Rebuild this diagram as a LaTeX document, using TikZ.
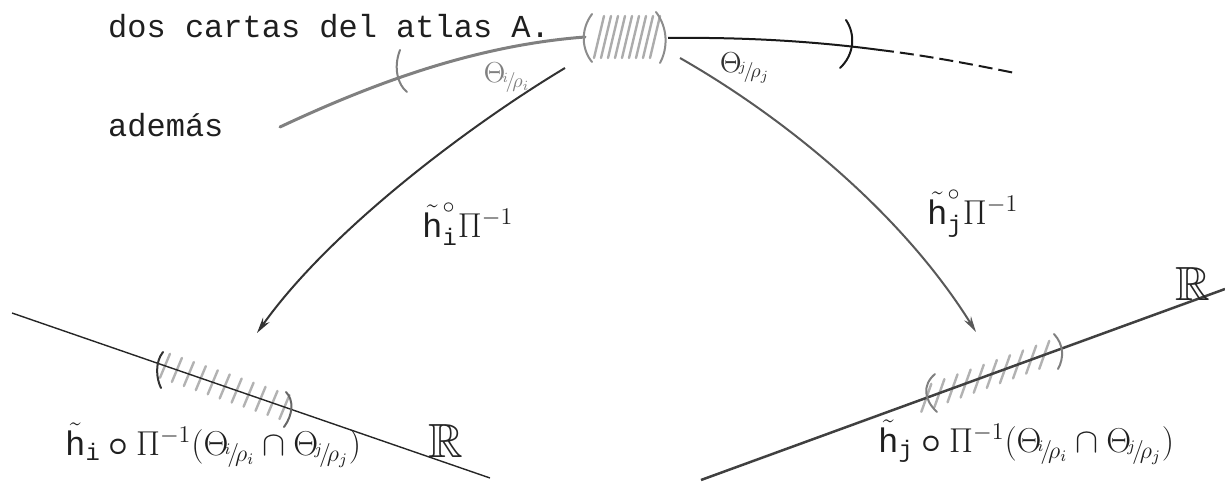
\documentclass[tikz,border=0pt]{standalone}
\usepackage{amsmath,amssymb}
\usepackage{fontspec}
\setmonofont{Liberation Mono}
\usetikzlibrary{calc,arrows.meta}
\newcommand{\hhc}[1]{\tilde{\text{\ttfamily h}}^{\circ}_{\text{\ttfamily #1}}}
\newcommand{\hhb}[1]{\tilde{\text{\ttfamily h}}_{\text{\ttfamily #1}}}
\newcommand{\tq}[2]{\Theta_{\!{}^{#1}\!/\!\rho_{#2}}}
\newcommand{\dbl}[1]{\scalebox{2}{#1}}
\begin{document}
\begin{tikzpicture}[x=1pt,y=-1pt,
  typed/.style={font=\fontsize{32}{36}\selectfont\ttfamily, inner sep=0, anchor=base west, text=black!88},
  lab/.style={font=\fontsize{17}{20}\selectfont, inner sep=0, anchor=base west, text=black!88},
  toplab/.style={font=\fontsize{14}{16}\selectfont, inner sep=0},
  bbR/.style={font=\fontsize{24}{28}\selectfont, inner sep=0, anchor=base west, text=black!85},
  axis/.style={black!85, line width=1.4pt},
  hatch/.style={gray!60, line width=2.4pt, line cap=round},
  paren/.style={line width=2pt, line cap=round},
  maparrow/.style={line width=2pt, -{Stealth[length=16pt,width=8pt]}}]
\useasboundingbox (0,0) rectangle (1225,497);

% texts
\node[typed] (t1) at (108,38) {dos cartas del atlas A.};
\node[typed] (t2) at (108,137) {además};

% top chart curve
\coordinate (a0) at (280,127);
\coordinate (a1) at (585,37);
\draw[gray, line width=3pt, line cap=round] (a0) .. controls (380,80) and (480,45) .. (a1);
\draw[gray, paren] (400,50) .. controls (393,68) and (398,85) .. (407,92);

% hatched intersection on top
\foreach \x in {594,601,...,652} \draw[hatch, gray!65] (\x,58) -- (\x+10,16);
\draw[paren, gray!90] (592,14) .. controls (580,30) and (582,50) .. (592,62);
\draw[paren, gray!90] (656,12) .. controls (668,28) and (668,48) .. (660,63);

% black right part
\coordinate (b0) at (668,38);
\coordinate (b1) at (880,50);
\coordinate (b2) at (1015,73);
\draw[black!90, line width=2pt] (b0) .. controls (750,37) and (820,42) .. (b1);
\draw[black!90, line width=2pt, dash pattern=on 14pt off 6pt] (b1) .. controls (930,56) and (975,65) .. (b2);
\draw[paren, black!90] (846,20) .. controls (856,35) and (854,55) .. (840,68);

% top theta labels
\node[toplab, text=gray] (thl) at (507,78) {\dbl{$\tq{i}{i}$}};
\node[toplab, text=black!80] (thr) at (745,68) {\dbl{$\tq{j}{j}$}};

% maps
\coordinate (la0) at (565,68);
\coordinate (la1) at (257,333);
\draw[maparrow, black!80] (la0) .. controls (470,125) and (330,230) .. (la1);
\coordinate (ra0) at (680,58);
\coordinate (ra1) at (976,332);
\draw[maparrow, black!65] (ra0) .. controls (780,115) and (900,210) .. (ra1);
\node[lab] (li) at (422,237) {\dbl{$\hhc{i}\Pi^{-1}$}};
\node[lab] (lj) at (927,224) {\dbl{$\hhc{j}\Pi^{-1}$}};

% bottom-left real line
\coordinate (p0) at (12,313);
\coordinate (p1) at (490,478);
\foreach \t in {0.32,0.345,...,0.57} \draw[hatch] ($(p0)!\t!(p1)$) ++(-5,12) -- ++(10,-24);
\draw[axis] (p0) -- (p1);
\draw[paren, black!80] (163,352) .. controls (155,362) and (156,378) .. (161,388);
\draw[paren, black!60] (286,392) .. controls (294,400) and (293,415) .. (284,427);
\node[lab] (bl) at (65,455) {\dbl{$\hhb{i}\mathbin{\boldsymbol{\circ}}\Pi^{-1}(\tq{i}{i}\cap\tq{j}{j})$}};
\node[bbR] (R1) at (428,457) {\dbl{$\mathbb{R}$}};

% bottom-right real line
\coordinate (q0) at (701,480);
\coordinate (q1) at (1225,289);
\foreach \t in {0.43,0.455,...,0.68} \draw[hatch] ($(q0)!\t!(q1)$) ++(-5,14) -- ++(10,-28);
\draw[axis, line width=2.5pt, black!75] (q0) -- (q1);
\draw[paren, gray] (935,374) .. controls (922,385) and (924,400) .. (937,412);
\draw[paren, gray] (1054,334) .. controls (1064,345) and (1064,358) .. (1058,369);
\node[lab] (br) at (878,452) {\dbl{$\hhb{j}\mathbin{\boldsymbol{\circ}}\Pi^{-1}(\tq{i}{i}\cap\tq{j}{j})$}};
\node[bbR] (R2) at (1175,300) {\dbl{$\mathbb{R}$}};
\end{tikzpicture}
\end{document}
